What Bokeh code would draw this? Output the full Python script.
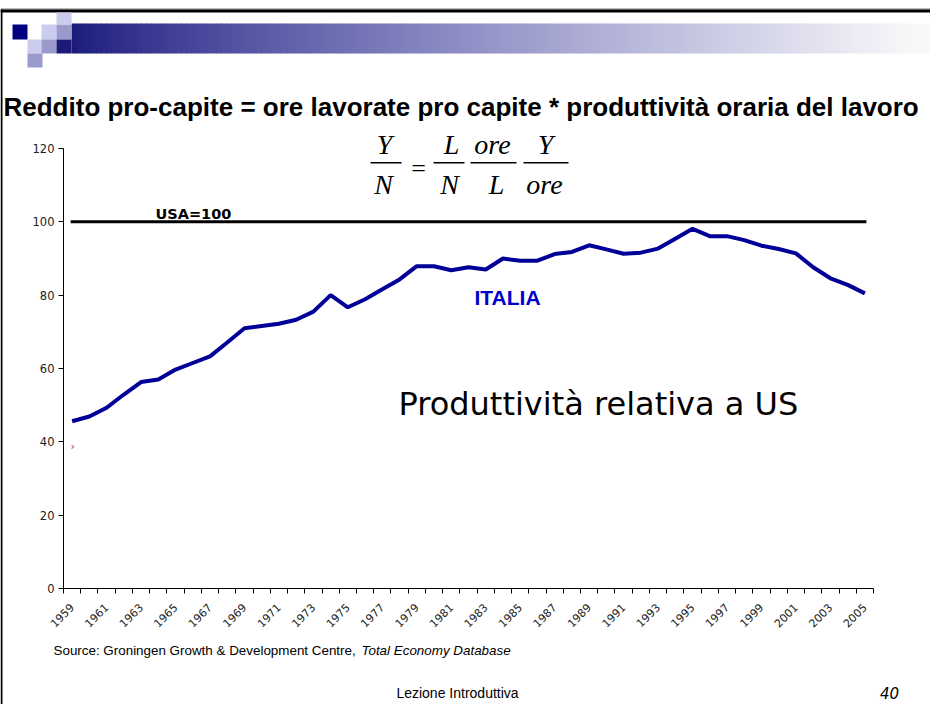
import math
from bokeh.plotting import figure
from bokeh.models import Range1d, FixedTicker, Label, ColumnDataSource
from bokeh.embed import file_html
from bokeh.resources import INLINE

# ---------------- data ----------------
years = list(range(1959, 2006))
italia = [45.6, 46.9, 49.3, 52.9, 56.3, 57.0, 59.7, 61.5, 63.3, 67.1,
          71.0, 71.6, 72.2, 73.3, 75.5, 80.0, 76.7, 78.9, 81.6, 84.3,
          87.9, 87.9, 86.8, 87.6, 87.0, 90.0, 89.4, 89.4, 91.2, 91.8,
          93.6, 92.5, 91.3, 91.6, 92.7, 95.4, 98.1, 96.1, 96.1, 95.0,
          93.5, 92.6, 91.4, 87.6, 84.6, 82.8, 80.5]
usa_level = 100
usa = [usa_level] * len(years)
y_ticks = [0, 20, 40, 60, 80, 100, 120]
x_label_years = years[::2]
x_tick_labels = [str(y) for y in x_label_years]

title_text = "Reddito pro-capite = ore lavorate pro capite * produttività oraria del lavoro"
source_regular = "Source: Groningen Growth & Development Centre, "
source_italic = "Total Economy Database"
footer_text = "Lezione Introduttiva"
page_no = "40"

# ---------------- geometry (page pixels) ----------------
W, H = 930, 704
AX_L, AX_R = 63, 873          # x pixels of the category axis ends
AX_Y0, AX_Y120 = 588, 148     # y pixels of values 0 and 120
x_lo, x_hi = years[0] - 0.5, years[-1] + 0.5
upx = (x_hi - x_lo) / (AX_R - AX_L)
vpx = 120.0 / (AX_Y0 - AX_Y120)

p = figure(width=W, height=H, output_backend="svg", toolbar_location=None,
           x_range=Range1d(x_lo - AX_L * upx, x_hi + (W - AX_R) * upx),
           y_range=Range1d(-(H - AX_Y0) * vpx, 120 + AX_Y120 * vpx),
           min_border=0, background_fill_color="white",
           border_fill_color="white")
p.outline_line_color = None
p.grid.visible = False
p.extra_x_ranges = {"px": Range1d(0, W)}
p.extra_y_ranges = {"px": Range1d(H, 0)}

# ---------------- axes ----------------
xa = p.xaxis[0]
xa.fixed_location = 0
xa.bounds = (x_lo, x_hi)
xa.ticker = FixedTicker(ticks=x_label_years,
                        minor_ticks=[y - 0.5 for y in years] + [x_hi])
xa.major_label_overrides = {y: t for y, t in zip(x_label_years, x_tick_labels)}
xa.major_tick_in = 0
xa.major_tick_out = 0
xa.minor_tick_in = 0
xa.minor_tick_out = 5
xa.minor_tick_line_color = "black"
xa.major_label_orientation = math.pi / 4
xa.major_label_standoff = 12
xa.major_label_text_font = "DejaVu Sans"
xa.major_label_text_font_size = "11px"
xa.major_label_text_color = "#222222"
xa.axis_line_color = "black"

ya = p.yaxis[0]
ya.fixed_location = x_lo
ya.bounds = (0, 120)
ya.ticker = FixedTicker(ticks=y_ticks)
ya.major_tick_in = 0
ya.major_tick_out = 5
ya.minor_tick_out = 0
ya.major_label_standoff = 4
ya.major_label_text_font = "DejaVu Sans"
ya.major_label_text_font_size = "11.5px"
ya.major_label_text_color = "#222222"
ya.axis_line_color = "black"

# ---------------- data marks ----------------
p.line(years, usa, line_width=3, line_color="black", line_cap="square")
p.line(years, italia, line_width=4, line_color="#000099")


def add_label(x, y, text, size, font="Liberation Sans", style="normal",
              color="black", align="left", baseline="middle"):
    p.add_layout(Label(x=x, y=y, text=text, text_font=font,
                       text_font_size=f"{size}px", text_font_style=style,
                       text_color=color, text_align=align,
                       text_baseline=baseline,
                       x_range_name="px", y_range_name="px"))


def boxes(d):
    p.quad(left="left", right="right", top="top", bottom="bottom",
           color="color", line_color=None, source=ColumnDataSource(d),
           x_range_name="px", y_range_name="px")


# ---------------- slide decoration ----------------
boxes(dict(left=[0, 0, 0], right=[W, W, 2], top=[8, 9, 9], bottom=[9, 12, H],
           color=["#777777", "black", "black"]))

nav = (28, 28, 120)
gl, gr, gt, gb, gc = [], [], [], [], []
x = 71
step = 5
while x < W:
    t = min(1.0, (x - 71) / 840.0) ** 0.85
    c = (int(round(nav[0] + (248 - nav[0]) * t)),
         int(round(nav[1] + (248 - nav[1]) * t)),
         int(round(nav[2] + (250 - nav[2]) * t ** 0.8)))
    gl.append(x); gr.append(x + step + 0.6); gt.append(23); gb.append(53)
    gc.append("#%02x%02x%02x" % c)
    x += step
boxes(dict(left=gl, right=gr, top=gt, bottom=gb, color=gc))

boxes(dict(
    left=[12, 41, 56, 56, 27, 41, 56, 27],
    right=[27, 56, 71, 71, 41, 56, 71, 42],
    top=[24, 24, 24, 12, 39, 39, 39, 53],
    bottom=[39, 39, 39, 24, 53, 53, 53, 67],
    color=["#000080", "#ccccee", "#9999cc", "#ccccee", "#ccccee", "#9999cc",
           "#1c1c78", "#9999cc"]))

add_label(3, 106, title_text, 26, style="bold")

# ---------------- formula ----------------
ff = "Liberation Serif"
fs = 28
nm, dm = 144, 184
for (cx, txt, yc) in [(384, "Y", nm), (383, "N", dm), (451, "L", nm), (449, "N", dm),
                      (492, "ore", nm), (496, "L", dm), (545, "Y", nm), (544, "ore", dm)]:
    add_label(cx, yc, txt, fs, font=ff, style="italic", align="center")
add_label(418, 168, "=", 26, font=ff, align="center")
boxes(dict(left=[370, 433, 470, 523], right=[401, 464, 516, 568],
           top=[161.5] * 4, bottom=[163] * 4, color=["black"] * 4))

# ---------------- chart annotations ----------------
add_label(155, 213, "USA=100", 14.5, font="DejaVu Sans", style="bold")
add_label(474, 297, "ITALIA", 21, style="bold", color="#0000cc")
add_label(398, 403, "Produttività relativa a US", 32, font="DejaVu Sans")
add_label(70, 446, "›", 11, font="DejaVu Sans", color="#a03070")

# ---------------- source and footer ----------------
add_label(53, 650, source_regular, 13.4)
add_label(361, 650, source_italic, 13.4, style="italic")
add_label(457, 692, footer_text, 14, align="center")
add_label(889, 692, page_no, 15, font="DejaVu Sans", style="italic",
          align="center")

open("out.html", "w").write(file_html(p, INLINE))
